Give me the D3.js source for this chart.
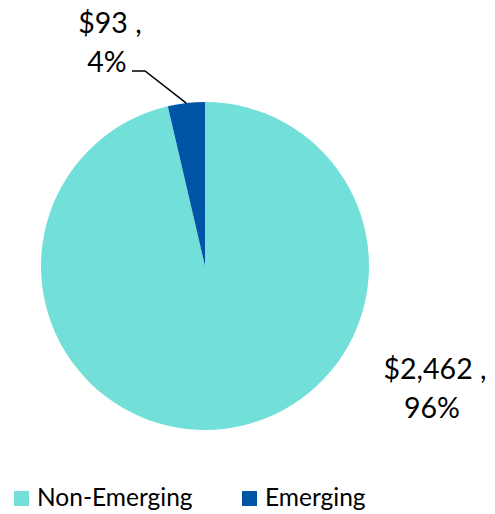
<!DOCTYPE html>
<html><head><meta charset="utf-8">
<script src="https://cdn.jsdelivr.net/npm/d3@7"></script>
<style>body{margin:0;background:#fff}svg{display:block}</style>
</head><body>
<script>
const categories = ["Non-Emerging", "Emerging"];
const values = [2462, 93];
const percents = ["96%", "4%"];
const valueLabels = ["$2,462 ,", "$93 ,"];
const colors = ["#72E0D8", "#0054A6"];

const W = 495, H = 514;
const svg = d3.select("body").append("svg").attr("width", W).attr("height", H);
const cx = 205, cy = 266, R = 164;
const font = "Lato, 'Noto Sans', sans-serif";

const pie = d3.pie().sort(null).value(d => d)(values);
const arc = d3.arc().innerRadius(0).outerRadius(R);
const g = svg.append("g").attr("transform", `translate(${cx},${cy})`);
g.selectAll("path").data(pie).join("path")
  .attr("d", arc).attr("fill", (d, i) => colors[i]);

// leader line for small slice
const small = pie[1];
const mid = (small.startAngle + small.endAngle) / 2;
const px = cx + R * Math.sin(mid), py = cy - R * Math.cos(mid);
svg.append("polyline")
  .attr("points", `${px},${py} 145,71 132,71`)
  .attr("fill", "none").attr("stroke", "#000").attr("stroke-width", 1.5);

// labels
const labelPos = [{x: 435, y: 379}, {x: 110, y: 33}];
labelPos.forEach((p, i) => {
  const t = svg.append("text").attr("text-anchor", "middle")
    .attr("font-family", font).attr("font-size", 28.5).attr("fill", "#000");
  t.append("tspan").attr("x", p.x).attr("y", p.y).text(valueLabels[i]);
  t.append("tspan").attr("x", p.x - 3).attr("y", p.y + 39).text(percents[i]);
});

// legend
const legX = [14, 242];
categories.forEach((c, i) => {
  svg.append("rect").attr("x", legX[i]).attr("y", 491).attr("width", 15).attr("height", 15)
    .attr("fill", colors[i]);
  svg.append("text").attr("x", legX[i] + 23).attr("y", 506)
    .attr("font-family", font).attr("font-size", 24.5).attr("fill", "#000").text(c);
});
</script>
</body></html>
